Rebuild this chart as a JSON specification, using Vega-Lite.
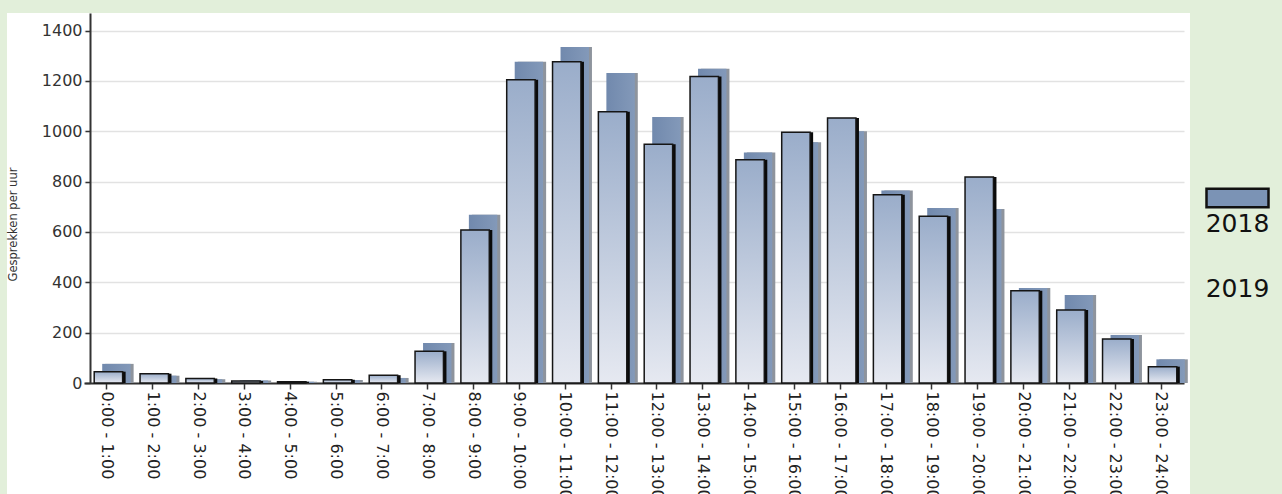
{
  "$schema": "https://vega.github.io/schema/vega-lite/v6.json",
  "background": "white",
  "padding": 0,
  "config": {
    "view": {"stroke": null},
    "concat": {"spacing": 0},
    "axis": {"labelFont": "DejaVu Sans", "titleFont": "DejaVu Sans"}
  },
  "spacing": 0,
  "vconcat": [
    {
      "width": 1282,
      "height": 13,
      "view": {"fill": "#e2efda", "stroke": null},
      "data": {"values": [{}]},
      "mark": {"type": "text"},
      "encoding": {}
    },
    {
      "spacing": 0,
      "align": "none",
      "hconcat": [
        {
          "width": 7,
          "height": 490,
          "view": {"fill": "#e2efda", "stroke": null},
          "data": {"values": [{}]},
          "mark": {"type": "text"},
          "encoding": {}
        },
        {
          "width": 1098,
          "height": 370,
          "data": {
            "values": [
              {"hour": "0:00 - 1:00", "year": "2018", "value": 76}, {"hour": "0:00 - 1:00", "year": "2019", "value": 45},
              {"hour": "1:00 - 2:00", "year": "2018", "value": 29}, {"hour": "1:00 - 2:00", "year": "2019", "value": 37},
              {"hour": "2:00 - 3:00", "year": "2018", "value": 15}, {"hour": "2:00 - 3:00", "year": "2019", "value": 18},
              {"hour": "3:00 - 4:00", "year": "2018", "value": 10}, {"hour": "3:00 - 4:00", "year": "2019", "value": 8},
              {"hour": "4:00 - 5:00", "year": "2018", "value": 5}, {"hour": "4:00 - 5:00", "year": "2019", "value": 5},
              {"hour": "5:00 - 6:00", "year": "2018", "value": 12}, {"hour": "5:00 - 6:00", "year": "2019", "value": 13},
              {"hour": "6:00 - 7:00", "year": "2018", "value": 20}, {"hour": "6:00 - 7:00", "year": "2019", "value": 31},
              {"hour": "7:00 - 8:00", "year": "2018", "value": 159}, {"hour": "7:00 - 8:00", "year": "2019", "value": 126},
              {"hour": "8:00 - 9:00", "year": "2018", "value": 668}, {"hour": "8:00 - 9:00", "year": "2019", "value": 608},
              {"hour": "9:00 - 10:00", "year": "2018", "value": 1276}, {"hour": "9:00 - 10:00", "year": "2019", "value": 1205},
              {"hour": "10:00 - 11:00", "year": "2018", "value": 1335}, {"hour": "10:00 - 11:00", "year": "2019", "value": 1276},
              {"hour": "11:00 - 12:00", "year": "2018", "value": 1232}, {"hour": "11:00 - 12:00", "year": "2019", "value": 1078},
              {"hour": "12:00 - 13:00", "year": "2018", "value": 1057}, {"hour": "12:00 - 13:00", "year": "2019", "value": 949},
              {"hour": "13:00 - 14:00", "year": "2018", "value": 1249}, {"hour": "13:00 - 14:00", "year": "2019", "value": 1218},
              {"hour": "14:00 - 15:00", "year": "2018", "value": 916}, {"hour": "14:00 - 15:00", "year": "2019", "value": 887},
              {"hour": "15:00 - 16:00", "year": "2018", "value": 956}, {"hour": "15:00 - 16:00", "year": "2019", "value": 996},
              {"hour": "16:00 - 17:00", "year": "2018", "value": 1000}, {"hour": "16:00 - 17:00", "year": "2019", "value": 1053},
              {"hour": "17:00 - 18:00", "year": "2018", "value": 765}, {"hour": "17:00 - 18:00", "year": "2019", "value": 748},
              {"hour": "18:00 - 19:00", "year": "2018", "value": 695}, {"hour": "18:00 - 19:00", "year": "2019", "value": 662},
              {"hour": "19:00 - 20:00", "year": "2018", "value": 691}, {"hour": "19:00 - 20:00", "year": "2019", "value": 818},
              {"hour": "20:00 - 21:00", "year": "2018", "value": 377}, {"hour": "20:00 - 21:00", "year": "2019", "value": 367},
              {"hour": "21:00 - 22:00", "year": "2018", "value": 350}, {"hour": "21:00 - 22:00", "year": "2019", "value": 290},
              {"hour": "22:00 - 23:00", "year": "2018", "value": 191}, {"hour": "22:00 - 23:00", "year": "2019", "value": 175},
              {"hour": "23:00 - 24:00", "year": "2018", "value": 94}, {"hour": "23:00 - 24:00", "year": "2019", "value": 65}
            ]
          },
          "encoding": {
            "x": {
              "field": "hour", "type": "nominal", "sort": null,
              "scale": {"range": [-6, 1094], "paddingInner": 0, "paddingOuter": 0},
              "axis": {
                "title": null, "labelAngle": 90, "labelFontSize": 16, "labelColor": "#222",
                "labelPadding": 2, "tickSize": 6, "tickColor": "#333", "tickWidth": 1.5,
                "domainColor": "#333", "domainWidth": 2, "grid": false
              }
            },
            "y": {
              "field": "value", "type": "quantitative",
              "scale": {"domain": [0, 1470], "nice": false},
              "axis": {
                "title": "Gesprekken per uur", "values": [0, 200, 400, 600, 800, 1000, 1200, 1400],
                "format": "d",
                "labelFontSize": 16, "labelColor": "#333", "labelPadding": 3,
                "tickSize": 5, "tickColor": "#333", "tickWidth": 1.5,
                "domainColor": "#333", "domainWidth": 2,
                "gridColor": "#e2e2e2", "gridWidth": 1.5,
                "titleFontSize": 11.5, "titleFontWeight": "normal", "titleColor": "#333",
                "titlePadding": 23, "titleY": 211
              }
            }
          },
          "layer": [
            {
              "transform": [{"filter": "datum.year === '2018'"}],
              "mark": {"type": "bar", "width": {"band": 0.62}, "xOffset": 12.5, "fill": "#8e949d"}
            },
            {
              "transform": [{"filter": "datum.year === '2018'"}],
              "mark": {
                "type": "bar", "width": {"band": 0.62}, "xOffset": 9.5,
                "fill": {"gradient": "linear", "x1": 0, "y1": 0, "x2": 1, "y2": 0,
                  "stops": [{"offset": 0, "color": "#7189ad"}, {"offset": 1, "color": "#8399b9"}]}
              }
            },
            {
              "transform": [{"filter": "datum.year === '2019'"}],
              "mark": {"type": "bar", "width": {"band": 0.62}, "xOffset": 4.5, "fill": "#0a0a0a"}
            },
            {
              "transform": [{"filter": "datum.year === '2019'"}],
              "mark": {
                "type": "bar", "width": {"band": 0.62}, "xOffset": 1.5,
                "stroke": "#151515", "strokeWidth": 1.5,
                "fill": {"gradient": "linear", "x1": 0, "y1": 1, "x2": 0, "y2": 0,
                  "stops": [{"offset": 0, "color": "#e6e9f1"}, {"offset": 1, "color": "#9aadca"}]}
              }
            }
          ]
        },
        {
          "width": 95,
          "height": 490,
          "view": {"fill": "#e2efda", "stroke": null},
          "data": {"values": [{"year": "2018"}, {"year": "2019"}]},
          "encoding": {
            "y": {"field": "year", "type": "nominal", "scale": {"type": "point", "domain": ["2018", "2019"], "range": [211, 276], "padding": 0}, "axis": null}
          },
          "layer": [
            {
              "transform": [{"filter": "datum.year === '2018'"}],
              "mark": {"type": "point", "shape": "M-1,-0.3H1V0.3H-1Z", "size": 3844, "filled": true, "fill": "#7b93b5", "stroke": "#111", "strokeWidth": 2.5, "opacity": 1, "yOffset": -26}
            },
            {
              "mark": {"type": "text", "font": "DejaVu Sans", "fontSize": 25, "color": "#111", "align": "center", "baseline": "middle"},
              "encoding": {"text": {"field": "year"}}
            }
          ]
        }
      ]
    }
  ]
}
